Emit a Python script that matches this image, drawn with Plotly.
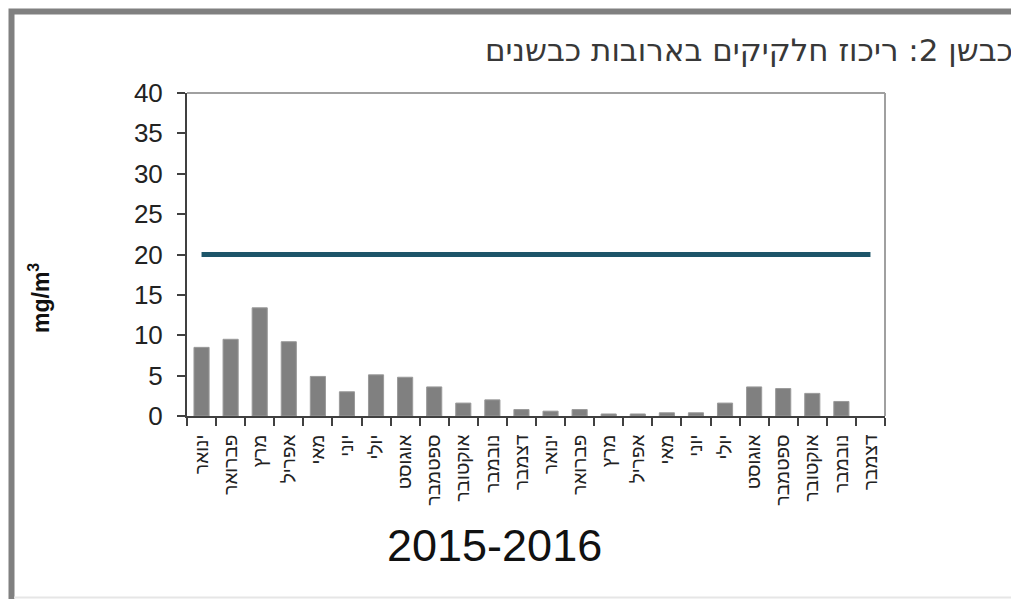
import plotly.graph_objects as go

months = ["ינואר", "פברואר", "מרץ", "אפריל", "מאי", "יוני", "יולי", "אוגוסט",
          "ספטמבר", "אוקטובר", "נובמבר", "דצמבר"]
labels = months + months
values = [8.5, 9.5, 13.4, 9.2, 4.9, 3.0, 5.1, 4.8, 3.6, 1.6, 2.0, 0.8,
          0.6, 0.8, 0.25, 0.25, 0.4, 0.4, 1.6, 3.6, 3.4, 2.8, 1.8, None]
limit = [20] * len(labels)
yticks = [0, 5, 10, 15, 20, 25, 30, 35, 40]
title_text = "כבשן 2: ריכוז חלקיקים בארובות כבשנים"
x_title = "2015-2016"
y_title = "mg/m<sup>3</sup>"

FONT = "Liberation Sans, Arial, DejaVu Sans, sans-serif"
OFF = 8  # page body margin
W, H = 1019 - OFF, 599 - OFF
L, R, T, B = 187 - OFF, 885 - OFF, 93 - OFF, 416 - OFF

def px(x):
    return (x - OFF - L) / (R - L)

def py(y):
    return (B - (y - OFF)) / (B - T)

xpos = list(range(len(labels)))

fig = go.Figure()
fig.add_trace(go.Bar(x=xpos, y=values, marker=dict(color="#808080", line=dict(color="#9a9a9a", width=1)),
                     width=0.52, showlegend=False))
fig.add_trace(go.Scatter(x=xpos, y=limit, mode="lines", line=dict(color="#1d5569", width=5),
                         showlegend=False))

fig.update_layout(
    width=W, height=H,
    margin=dict(l=L, r=W - R, t=T, b=H - B),
    paper_bgcolor="white", plot_bgcolor="white",
    font=dict(family=FONT, color="#222222"),
    xaxis=dict(range=[-0.5, len(labels) - 0.5], tickmode="array", tickvals=xpos, ticktext=labels,
               tickangle=-90, ticks="", showgrid=False, zeroline=False,
               showline=True, linecolor="#404040", linewidth=2,
               tickfont=dict(size=19, color="#222222", family=FONT),
               minor=dict(tickmode="array", tickvals=[i - 0.5 for i in range(len(labels) + 1)],
                          ticks="outside", ticklen=8, tickcolor="#404040", tickwidth=1.5, showgrid=False),
               ticklabelstandoff=9),
    yaxis=dict(range=[0, 40], tickmode="array", tickvals=yticks, ticks="outside", ticklen=8,
               tickcolor="#404040", tickwidth=1.5, showgrid=False, zeroline=False,
               showline=True, linecolor="#404040", linewidth=2,
               tickfont=dict(size=26, color="#222222", family=FONT), ticklabelstandoff=9),
    bargap=0.48,
)

shapes = [
    dict(type="line", xref="paper", yref="paper", x0=0, y0=1, x1=1, y1=1,
         line=dict(color="#a0a0a0", width=2)),
    dict(type="line", xref="paper", yref="paper", x0=1, y0=0, x1=1, y1=1,
         line=dict(color="#a0a0a0", width=2)),
    dict(type="path", xref="paper", yref="paper",
         path=f"M {px(11.5)} {py(605)} L {px(11.5)} {py(11.5)} L {px(1030)} {py(11.5)}",
         line=dict(color="#808080", width=6)),
    dict(type="line", xref="paper", yref="paper", x0=px(14), y0=py(597.5), x1=px(1030), y1=py(597.5),
         line=dict(color="#e6e6e6", width=2)),
]
fig.update_layout(shapes=shapes)

fig.add_annotation(text=title_text, xref="paper", yref="paper", x=px(1015), y=py(50),
                   xanchor="right", yanchor="middle", showarrow=False,
                   font=dict(size=31, color="#383838", family="DejaVu Sans, Liberation Sans, sans-serif"))
fig.add_annotation(text=x_title, xref="paper", yref="paper", x=px(494), y=py(545),
                   xanchor="center", yanchor="middle", showarrow=False,
                   font=dict(size=45, color="#111111", family=FONT))
fig.add_annotation(text="<b>" + y_title + "</b>", xref="paper", yref="paper", x=px(39), y=py(298),
                   xanchor="center", yanchor="middle", showarrow=False, textangle=-90,
                   font=dict(size=23, color="#111111", family=FONT))

fig.write_html("out.html")
